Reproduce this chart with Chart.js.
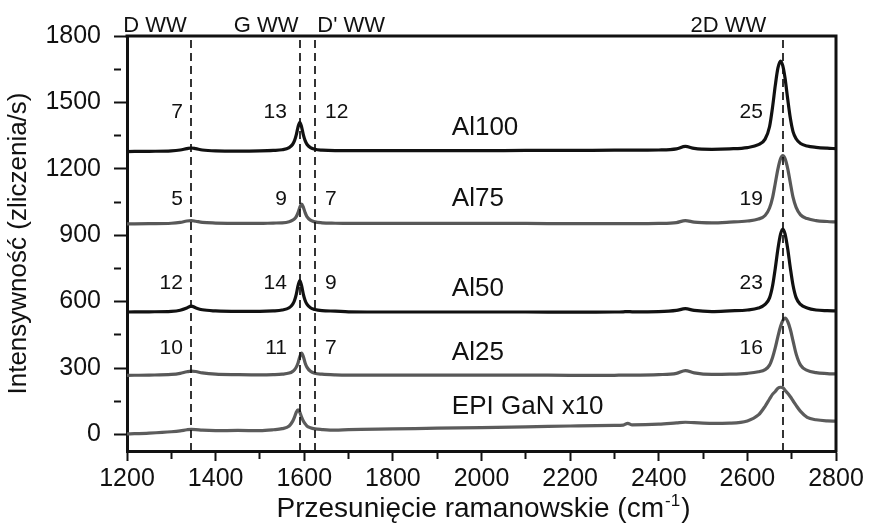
<!DOCTYPE html>
<html>
<head>
<meta charset="utf-8">
<script src="https://cdn.jsdelivr.net/npm/chart.js@4"></script>
<style>
  html, body { margin: 0; padding: 0; background: #fff; }
  #wrap { width: 872px; height: 528px; position: relative; }
</style>
</head>
<body>
<div id="wrap"><canvas id="raman"></canvas></div>
<script>
// Raman shift grid (cm-1), denser around the D, G and 2D bands
const ramanShift = [
  1200, 1250, 1300, 1320, 1335, 1345, 1355, 1370, 1400, 1450, 1500,
  1530, 1550, 1566, 1574, 1578, 1582, 1586, 1590, 1594, 1598, 1602, 1606, 1614, 1624, 1640, 1670,
  1700, 1800, 1900, 2000, 2100, 2200, 2300, 2320, 2330, 2340, 2400, 2440, 2460, 2480, 2520,
  2560, 2600, 2625, 2640, 2650, 2657, 2663, 2669, 2675, 2680, 2685, 2691, 2697, 2703, 2710, 2720, 2735, 2755, 2780, 2800
];

// intensities (counts/s), spectra stacked with offsets
const al100 = [
  1278, 1279, 1281, 1285, 1291, 1294, 1291, 1285, 1281, 1280, 1281,
  1283, 1286, 1296, 1311, 1327, 1353, 1389, 1410, 1389, 1353, 1327, 1311, 1296, 1288, 1284, 1282,
  1282, 1282, 1282, 1282, 1283, 1283, 1284, 1284, 1284, 1284, 1285, 1290, 1301, 1292, 1288,
  1290, 1296, 1309, 1334, 1390, 1481, 1577, 1656, 1687, 1665, 1610, 1515, 1428, 1368, 1336, 1314, 1303, 1297, 1293, 1291
];
const al75 = [
  951, 952, 954, 958, 964, 966, 963, 958, 955, 953, 953,
  955, 956, 961, 968, 974, 984, 1002, 1026, 1040, 1026, 1002, 984, 968, 960, 956, 954,
  953, 953, 953, 953, 953, 952, 952, 952, 952, 952, 953, 957, 966, 959, 956,
  959, 964, 973, 989, 1023, 1071, 1135, 1200, 1246, 1260, 1246, 1201, 1136, 1072, 1026, 992, 975, 966, 962, 960
];
const al50 = [
  553, 554, 556, 561, 571, 580, 572, 563, 558, 556, 556,
  558, 562, 572, 589, 605, 633, 672, 695, 672, 633, 605, 589, 572, 564, 559, 557,
  554, 553, 553, 553, 553, 552, 553, 554, 555, 554, 555, 560, 568, 560, 555,
  558, 562, 571, 587, 617, 673, 751, 839, 906, 928, 906, 839, 751, 674, 618, 587, 571, 562, 559, 558
];
const al25 = [
  267, 268, 271, 276, 283, 286, 284, 278, 272, 270, 269,
  270, 272, 277, 285, 292, 304, 323, 351, 367, 351, 323, 304, 285, 276, 272, 269,
  268, 268, 268, 268, 268, 267, 267, 268, 268, 268, 270, 276, 288, 278, 271,
  272, 276, 283, 293, 313, 349, 392, 443, 489, 515, 525, 510, 474, 423, 364, 313, 289, 279, 275, 273
];
const epiGaN = [
  2, 6, 12, 16, 21, 23, 22, 19, 17, 18, 17,
  21, 26, 38, 60, 78, 100, 111, 100, 78, 60, 48, 38, 30, 25, 22, 19,
  22, 25, 28, 31, 34, 38, 41, 42, 50, 43, 46, 52, 55, 53, 50,
  51, 61, 88, 127, 160, 182, 194, 209, 213, 211, 199, 186, 170, 152, 131, 104, 77, 66, 61, 60
];

const seriesNames = ['Al100', 'Al75', 'Al50', 'Al25', 'EPI GaN x10'];
const seriesColors = ['#111111', '#585858', '#111111', '#585858', '#5c5c5c'];
const seriesValues = [al100, al75, al50, al25, epiGaN];

// band positions (cm-1) and their captions above the frame
const bandNames = ['D WW', 'G WW', "D' WW", '2D WW'];
const bandPositions = [1344, 1590, 1624, 2681];
const bandCaptionX = [1263, 1514, 1706, 2557];

// FWHM values per sample: D, G, D', 2D
const fwhmLabels = [
  ['7', '13', '12', '25'],
  ['5', '9', '7', '19'],
  ['12', '14', '9', '23'],
  ['10', '11', '7', '16']
];

const xTicks = [1200, 1300, 1400, 1500, 1600, 1700, 1800, 1900, 2000, 2100, 2200, 2300, 2400, 2500, 2600, 2700, 2800];
const yTicks = [0, 150, 300, 450, 600, 750, 900, 1050, 1200, 1350, 1500, 1650, 1800];

const FONT = "'Liberation Sans', Arial, sans-serif";
const INK = '#111111';

// where the texts sit, in data units
const nameX = 1933;
const nameY = [1384, 1064, 659, 368, 124];
const fwhmY = [1454, 1061, 685, 391];
const fwhmX = [1326, 1561, 1647, 2635];
const fwhmAlign = ['right', 'right', 'left', 'right'];

const annotations = {
  id: 'annotations',
  afterDatasetsDraw(chart) {
    const { ctx, chartArea, scales: { x } } = chart;
    ctx.save();
    ctx.strokeStyle = INK;
    ctx.lineWidth = 1.7;
    ctx.setLineDash([8, 5]);
    bandPositions.forEach(p => {
      const px = Math.round(x.getPixelForValue(p));
      ctx.beginPath();
      ctx.moveTo(px, chartArea.top + 4);
      ctx.lineTo(px, chartArea.bottom);
      ctx.stroke();
    });
    ctx.restore();
  },
  afterDraw(chart) {
    const { ctx, chartArea, scales: { x, y } } = chart;
    ctx.save();

    // top and right sides of the frame
    ctx.strokeStyle = INK;
    ctx.lineWidth = 3;
    ctx.beginPath();
    ctx.moveTo(chartArea.left - 1.5, chartArea.top);
    ctx.lineTo(chartArea.right, chartArea.top);
    ctx.lineTo(chartArea.right, chartArea.bottom + 1.5);
    ctx.stroke();

    ctx.fillStyle = INK;

    // band captions
    ctx.font = '22px ' + FONT;
    ctx.textAlign = 'center';
    ctx.textBaseline = 'alphabetic';
    bandNames.forEach((t, i) => {
      ctx.fillText(t, x.getPixelForValue(bandCaptionX[i]), chartArea.top - 4);
    });

    // sample names
    ctx.textBaseline = 'middle';
    ctx.font = '26px ' + FONT;
    ctx.textAlign = 'left';
    seriesNames.forEach((t, i) => {
      ctx.fillText(t, x.getPixelForValue(nameX), y.getPixelForValue(nameY[i]));
    });

    // FWHM numbers
    ctx.font = '21px ' + FONT;
    fwhmLabels.forEach((row, i) => {
      row.forEach((t, j) => {
        ctx.textAlign = fwhmAlign[j];
        ctx.fillText(t, x.getPixelForValue(fwhmX[j]), y.getPixelForValue(fwhmY[i]));
      });
    });

    // x axis title with superscript
    const main = 'Przesunięcie ramanowskie (cm';
    const sup = '-1';
    const tail = ')';
    ctx.font = '28px ' + FONT;
    const wMain = ctx.measureText(main).width;
    const wTail = ctx.measureText(tail).width;
    ctx.font = '17px ' + FONT;
    const wSup = ctx.measureText(sup).width;
    const cx = (chartArea.left + chartArea.right) / 2 + 2;
    let tx = cx - (wMain + wSup + wTail + 2) / 2;
    const ty = 517;
    ctx.textAlign = 'left';
    ctx.textBaseline = 'alphabetic';
    ctx.font = '28px ' + FONT;
    ctx.fillText(main, tx, ty);
    tx += wMain + 1;
    ctx.font = '17px ' + FONT;
    ctx.fillText(sup, tx, ty - 11);
    tx += wSup + 1;
    ctx.font = '28px ' + FONT;
    ctx.fillText(tail, tx, ty);

    // y axis title
    ctx.translate(19, (chartArea.top + chartArea.bottom) / 2);
    ctx.rotate(-Math.PI / 2);
    ctx.textAlign = 'center';
    ctx.textBaseline = 'middle';
    ctx.font = '26px ' + FONT;
    ctx.fillText('Intensywność (zliczenia/s)', 0, 0);

    ctx.restore();
  }
};

new Chart(document.getElementById('raman'), {
  type: 'line',
  data: {
    datasets: seriesValues.map((vals, i) => ({
      label: seriesNames[i],
      data: ramanShift.map((s, k) => ({ x: s, y: vals[k] })),
      borderColor: seriesColors[i],
      borderWidth: 3.2,
      pointRadius: 0,
      cubicInterpolationMode: 'monotone',
      fill: false
    }))
  },
  options: {
    responsive: true,
    maintainAspectRatio: false,
    animation: false,
    layout: { padding: { top: 36, right: 36, left: 0, bottom: 0 } },
    plugins: { legend: { display: false }, tooltip: { enabled: false } },
    scales: {
      x: {
        type: 'linear',
        min: 1200,
        max: 2800,
        afterBuildTicks: s => { s.ticks = xTicks.map(v => ({ value: v })); },
        afterFit: s => { s.height = 77; },
        border: { display: true, color: INK, width: 3 },
        grid: {
          drawOnChartArea: false,
          drawTicks: true,
          tickLength: 10,
          tickWidth: 2,
          tickColor: INK,
          tickBorderDash: c => (c.tick && c.tick.value % 200 !== 0 ? [6, 100] : [])
        },
        ticks: {
          color: INK,
          font: { size: 25, family: FONT },
          padding: 3,
          maxRotation: 0,
          autoSkip: false,
          callback: v => (v % 200 === 0 ? String(v) : '')
        }
      },
      y: {
        type: 'linear',
        min: -75,
        max: 1800,
        afterBuildTicks: s => { s.ticks = yTicks.map(v => ({ value: v })); },
        afterFit: s => { s.width = 127; },
        border: { display: true, color: INK, width: 3 },
        grid: {
          drawOnChartArea: false,
          drawTicks: true,
          tickLength: 13,
          tickWidth: 2,
          tickColor: INK,
          tickBorderDash: c => (c.tick && c.tick.value % 300 !== 0 ? [7, 100] : [])
        },
        ticks: {
          color: INK,
          font: { size: 25, family: FONT },
          padding: 13,
          autoSkip: false,
          callback: v => (v % 300 === 0 ? String(v) : '')
        }
      }
    }
  },
  plugins: [annotations]
});
</script>
</body>
</html>
